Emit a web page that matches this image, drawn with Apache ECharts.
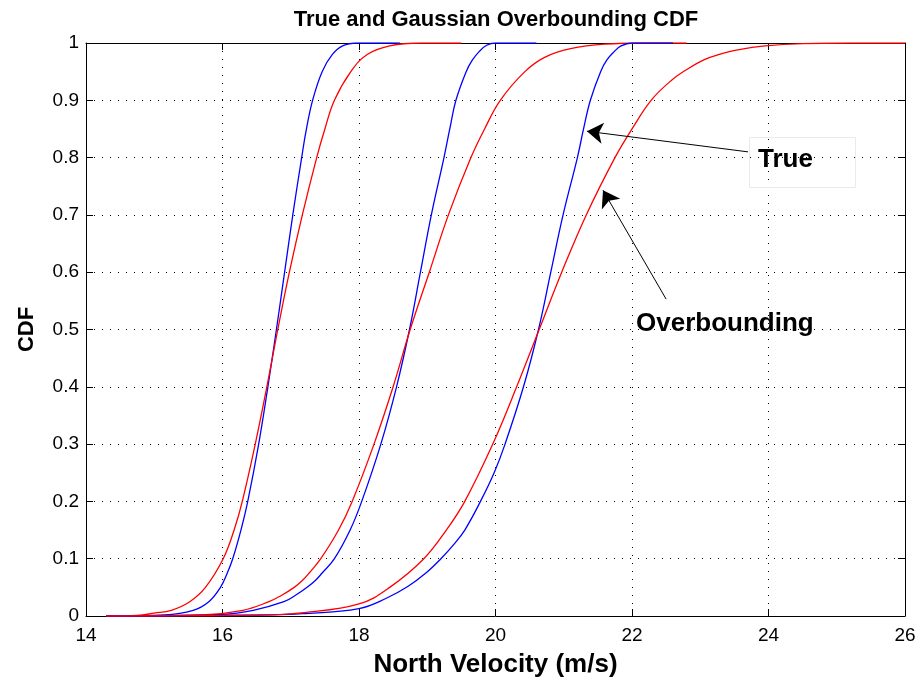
<!DOCTYPE html>
<html>
<head>
<meta charset="utf-8">
<script src="https://cdn.jsdelivr.net/npm/echarts@6/dist/echarts.min.js"></script>
<style>
html,body{margin:0;padding:0;background:#fff;}
#chart{width:924px;height:685px;}
</style>
</head>
<body>
<div id="chart"></div>
<script>
// ---- data ([x, CDF]) ----
var xTicks = [14, 16, 18, 20, 22, 24, 26];
var yTicks = [0, 0.1, 0.2, 0.3, 0.4, 0.5, 0.6, 0.7, 0.8, 0.9, 1];

var true1 = [[14.3,0],[15.15,0.002],[15.57,0.01],[15.80,0.025],[15.97,0.05],[16.07,0.075],[16.15,0.1],[16.27,0.15],[16.37,0.2],[16.53,0.3],[16.665,0.4],[16.79,0.5],[16.91,0.6],[17.03,0.7],[17.16,0.8],[17.23,0.85],[17.32,0.9],[17.46,0.95],[17.61,0.98],[17.76,0.995],[17.97,1],[18.6,1]];
var gauss1 = [[14.3,0],[14.75,0.001],[15.0,0.005],[15.25,0.01],[15.52,0.025],[15.75,0.05],[16.01,0.1],[16.17,0.15],[16.29,0.2],[16.48,0.3],[16.65,0.4],[16.81,0.5],[16.98,0.6],[17.17,0.7],[17.38,0.8],[17.50,0.85],[17.64,0.9],[17.88,0.95],[18.12,0.98],[18.45,0.995],[18.9,1],[19.5,1]];
var true2 = [[14.3,0],[16.0,0.003],[16.45,0.01],[16.9,0.025],[17.08,0.037],[17.24,0.05],[17.36,0.062],[17.46,0.075],[17.64,0.1],[17.87,0.15],[18.04,0.2],[18.32,0.3],[18.55,0.4],[18.74,0.5],[18.90,0.6],[19.06,0.7],[19.245,0.8],[19.33,0.85],[19.42,0.9],[19.57,0.95],[19.66,0.97],[19.76,0.985],[19.87,0.996],[20.0,1],[20.6,1]];
var gauss2 = [[14.3,0],[15.7,0.002],[16.3,0.01],[16.68,0.025],[16.85,0.035],[17.05,0.05],[17.17,0.062],[17.27,0.075],[17.44,0.1],[17.70,0.15],[17.90,0.2],[18.22,0.3],[18.50,0.4],[18.75,0.5],[19.03,0.6],[19.31,0.7],[19.64,0.8],[19.84,0.85],[20.07,0.9],[20.43,0.95],[20.72,0.975],[21.1,0.99],[21.6,0.998],[22.2,1],[22.8,1]];
var true3 = [[14.3,0],[16.6,0.002],[17.17,0.004],[18.0,0.013],[18.40,0.031],[18.72,0.052],[18.98,0.075],[19.20,0.1],[19.39,0.125],[19.55,0.15],[19.78,0.2],[19.98,0.25],[20.14,0.3],[20.41,0.4],[20.63,0.5],[20.81,0.6],[20.99,0.7],[21.20,0.8],[21.29,0.85],[21.39,0.9],[21.54,0.95],[21.63,0.97],[21.74,0.985],[21.84,0.995],[22.0,1],[22.6,1]];
var gauss3 = [[14.3,0],[16.5,0.001],[17.2,0.006],[18.0,0.021],[18.45,0.05],[18.95,0.1],[19.28,0.15],[19.55,0.2],[19.96,0.3],[20.31,0.4],[20.64,0.5],[20.97,0.6],[21.33,0.7],[21.75,0.8],[22.0,0.85],[22.28,0.9],[22.58,0.935],[22.82,0.955],[23.06,0.971],[23.28,0.98],[23.55,0.988],[23.95,0.995],[24.5,0.999],[25.2,1],[26,1]];

// annotation arrows (data coordinates: tail -> head)
var arrowTrue = [[23.70, 0.810], [21.34, 0.846]];
var arrowOver = [[22.50, 0.553], [21.575, 0.743]];

var FONT = "'Liberation Sans', Arial, Helvetica, sans-serif";
var chart = echarts.init(document.getElementById('chart'), null, {renderer: 'canvas'});

function lineSeries(name, data, color, extra) {
  var s = {
    name: name, type: 'line', data: data,
    showSymbol: false, symbol: 'none',
    smooth: 0.4,
    clip: true,
    lineStyle: {color: color, width: 1.3},
    itemStyle: {color: color},
    silent: true, animation: false, z: 3
  };
  if (extra) for (var k in extra) s[k] = extra[k];
  return s;
}

var arrowMark = {
  silent: true,
  symbol: ['none', 'arrow'],
  symbolSize: 16,
  lineStyle: {color: '#000', width: 1, type: 'solid'},
  label: {show: false},
  animation: false,
  data: [
    [{coord: arrowTrue[0]}, {coord: arrowTrue[1]}],
    [{coord: arrowOver[0]}, {coord: arrowOver[1]}]
  ]
};

var baseAxisX = {
  type: 'value', min: xTicks[0], max: xTicks[xTicks.length-1], interval: 2,
  axisLine: {show: true, onZero: false, lineStyle: {color: '#000', width: 1}},
  axisTick: {show: true, inside: true, length: 7, lineStyle: {color: '#000'}},
  splitLine: {show: false}
};
var baseAxisY = {
  type: 'value', min: yTicks[0], max: yTicks[yTicks.length-1], interval: 0.1,
  axisLine: {show: true, onZero: false, lineStyle: {color: '#000', width: 1}},
  axisTick: {show: true, inside: true, length: 7, lineStyle: {color: '#000'}},
  splitLine: {show: false}
};

var option = {
  backgroundColor: '#fff',
  animation: false,
  title: {
    text: 'True and Gaussian Overbounding CDF',
    left: 491, top: 4, textAlign: 'center',
    textStyle: {fontFamily: FONT, fontSize: 22, fontWeight: 'bold', color: '#000'}
  },
  grid: {left: 86, right: 19, top: 43, bottom: 69, containLabel: false},
  xAxis: [
    Object.assign({}, baseAxisX, {
      position: 'bottom',
      name: 'North Velocity (m/s)', nameLocation: 'middle', nameGap: 36,
      nameTextStyle: {fontFamily: FONT, fontSize: 26, fontWeight: 'bold', color: '#000'},
      axisLabel: {show: true, margin: 10, fontFamily: FONT, fontSize: 19, color: '#000',
        formatter: function (v) { return String(v); }},
      splitLine: {show: true, lineStyle: {color: '#000', width: 1, type: [1, 7]}}
    }),
    Object.assign({}, baseAxisX, {position: 'top', axisLabel: {show: false}})
  ],
  yAxis: [
    Object.assign({}, baseAxisY, {
      position: 'left',
      name: 'CDF', nameLocation: 'middle', nameGap: 48, nameRotate: 90,
      nameTextStyle: {fontFamily: FONT, fontSize: 22, fontWeight: 'bold', color: '#000'},
      axisLabel: {show: true, margin: 7, fontFamily: FONT, fontSize: 19, color: '#000',
        formatter: function (v) { return String(Math.round(v * 10) / 10); }},
      splitLine: {show: true, lineStyle: {color: '#000', width: 1, type: [1, 7]}}
    }),
    Object.assign({}, baseAxisY, {position: 'right', axisLabel: {show: false}})
  ],
  series: [
    lineSeries('True 1', true1, '#0000ff'),
    lineSeries('Overbound 1', gauss1, '#ff0000'),
    lineSeries('True 2', true2, '#0000ff'),
    lineSeries('Overbound 2', gauss2, '#ff0000'),
    lineSeries('True 3', true3, '#0000ff', {markLine: arrowMark}),
    lineSeries('Overbound 3', gauss3, '#ff0000')
  ],
  graphic: [
    {type: 'rect', left: 747, top: 135, shape: {width: 106, height: 50},
     style: {fill: 'none', stroke: '#e6ecec', lineWidth: 1}, z: 10},
    {type: 'text', left: 758, top: 147,
     style: {text: 'True', fontFamily: FONT, fontSize: 26, fontWeight: 'bold', fill: '#000'}, z: 11},
    {type: 'text', left: 636, top: 311,
     style: {text: 'Overbounding', fontFamily: FONT, fontSize: 26, fontWeight: 'bold', fill: '#000'}, z: 11}
  ]
};
chart.setOption(option);
</script>
</body>
</html>
